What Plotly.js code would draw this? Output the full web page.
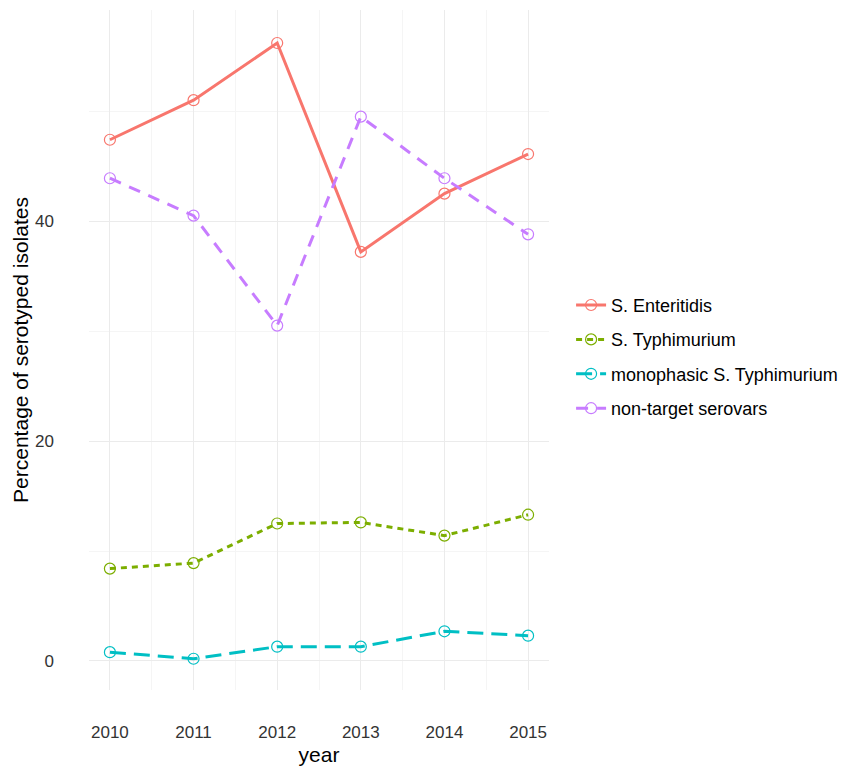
<!DOCTYPE html>
<html>
<head>
<meta charset="utf-8">
<script src="https://cdn.plot.ly/plotly-3.0.1.min.js"></script>
<style>html,body{margin:0;padding:0;background:#fff;}#chart{width:845px;height:766px;}</style>
</head>
<body>
<div id="chart"></div>
<script>
const years = [2010, 2011, 2012, 2013, 2014, 2015];
const seriesNames = ["S. Enteritidis", "S. Typhimurium", "monophasic S. Typhimurium", "non-target serovars"];
const enteritidis = [47.4, 51.0, 56.2, 37.2, 42.5, 46.1];
const typhimurium = [8.4, 8.9, 12.5, 12.6, 11.4, 13.3];
const monophasic = [0.8, 0.2, 1.3, 1.3, 2.7, 2.3];
const nonTarget = [43.9, 40.5, 30.5, 49.5, 43.9, 38.8];
const yTicks = [0, 20, 40];
const yMinor = [10, 30, 50];
const xMinor = [2010.5, 2011.5, 2012.5, 2013.5, 2014.5];

const colors = ["#F8766D", "#7CAE00", "#00BFC4", "#C77CFF"];
const dashes = ["solid", "6px,5px", "16px,8px", "12px,9px"];
const values = [enteritidis, typhimurium, monophasic, nonTarget];

const traces = values.map((v, i) => ({
  x: years, y: v, name: seriesNames[i], type: "scatter", mode: "lines+markers",
  legendgroup: "g" + i,
  line: {color: colors[i], width: 3, dash: dashes[i]},
  marker: {symbol: "circle-open", size: 11, color: colors[i], line: {width: 1.2, color: colors[i]}}
}));

const layout = {
  width: 845, height: 766,
  margin: {l: 89, r: 296, t: 10, b: 76, autoexpand: false},
  paper_bgcolor: "#fff", plot_bgcolor: "#fff",
  font: {family: "Liberation Sans, Arial, sans-serif", size: 17, color: "#333"},
  xaxis: {
    range: [2009.75, 2015.25], tickvals: years, ticktext: years.map(String),
    showgrid: true, gridcolor: "#EBEBEB", gridwidth: 1, zeroline: false, showline: false,
    ticks: "", ticklabelstandoff: 30,
    tickfont: {size: 17, color: "#333"},
    minor: {tickvals: xMinor, showgrid: true, gridcolor: "#F5F5F5", gridwidth: 1, ticks: ""},
    title: {text: "year", font: {size: 21, color: "#000"}, standoff: 8}
  },
  yaxis: {
    range: [-2.64, 59.2], tickvals: yTicks, ticktext: yTicks.map(String),
    showgrid: true, gridcolor: "#EBEBEB", gridwidth: 1, zeroline: false, showline: false,
    ticks: "", ticklabelstandoff: 34,
    tickfont: {size: 17, color: "#333"},
    minor: {tickvals: yMinor, showgrid: true, gridcolor: "#F5F5F5", gridwidth: 1, ticks: ""},
    title: {text: "Percentage of serotyped isolates", font: {size: 21, color: "#000"}, standoff: 0}
  },
  legend: {
    x: 1.048, xanchor: "left", y: 0.49, yanchor: "middle",
    font: {size: 18, color: "#000"}, traceorder: "grouped", tracegroupgap: 8, itemwidth: 30,
    bgcolor: "rgba(0,0,0,0)"
  },
  showlegend: true
};

Plotly.newPlot("chart", traces, layout, {displayModeBar: false, staticPlot: true});
</script>
</body>
</html>
